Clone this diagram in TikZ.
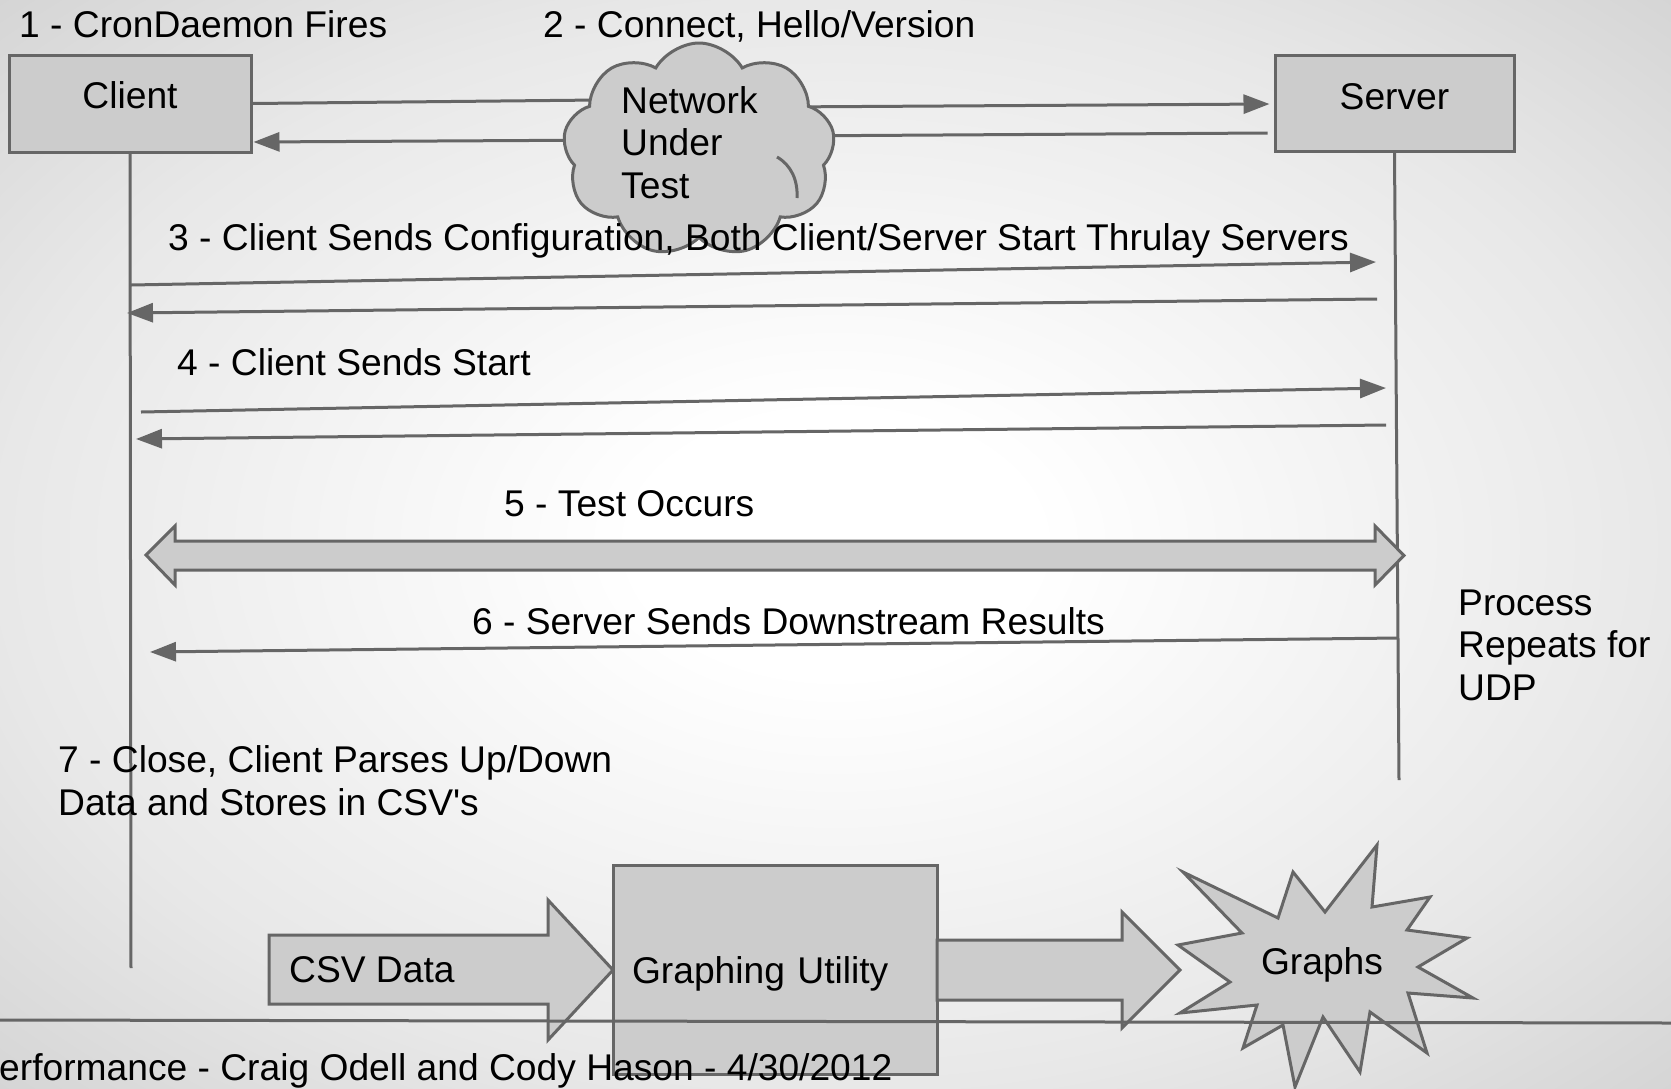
\documentclass[tikz,border=0pt]{standalone}
\usepackage{fontspec}
\setmainfont{Liberation Sans}
\usetikzlibrary{arrows.meta,shapes.symbols,calc}
\definecolor{lc}{HTML}{666666}
\definecolor{fc}{HTML}{CCCCCC}
\definecolor{bgA}{HTML}{E8E8E8}
\definecolor{bgB}{HTML}{D4D4D4}
\pgfdeclareradialshading{bgshade}{\pgfpoint{0bp}{0bp}}{color(0bp)=(white); color(6bp)=(white); color(25bp)=(bgA); color(36bp)=(bgB); color(50bp)=(bgB)}
\pgfdeclarelayer{back}
\pgfdeclarelayer{lines}
\pgfsetlayers{back,lines,main}
\begin{document}
\begin{tikzpicture}[x=1pt,y=-1pt,
  txt/.style={inner sep=0pt, font=\fontsize{37.2}{42.5}\selectfont, text=black},
  box/.style={draw=lc, fill=fc, line width=3pt, inner sep=0pt, font=\fontsize{37.2}{42.5}\selectfont},
  conn/.style={draw=lc, line width=3pt},
  arr/.style={conn, -{Triangle[length=26pt,width=19pt]}},
  blk/.style={draw=lc, fill=fc, line width=3pt, line join=miter}]
\useasboundingbox (0,0) rectangle (1671,1088);
\begin{pgfonlayer}{back}
\shade[shading=bgshade] (0,0) rectangle (1671,1088);
\end{pgfonlayer}

% participants
\node[box, minimum width=242pt, minimum height=97pt] (client) at (130,103.5) {\raisebox{16pt}{Client}};
\node[box, minimum width=239pt, minimum height=96pt] (server) at (1394.5,103) {\raisebox{13pt}{Server}};
\node[box, cloud, cloud puffs=9, cloud puff arc=120, cloud ignores aspect, minimum width=272pt, minimum height=214pt] (net) at (699,150) {};
\draw[conn] ($(net.center)+(78,7)$) .. controls ($(net.center)+(92,15)$) and ($(net.center)+(99,30)$) .. ($(net.center)+(98,48)$);
\node[txt, anchor=base west, align=left] (nettxt) at (621,198) {Network\\Under\\Test};

% lifelines
\coordinate (cend) at (131,968);
\coordinate (send) at (1399,780);
\draw[conn] (client.south) -- (cend);
\draw[conn] (server.south) -- (send);

% connect through the cloud
\begin{pgfonlayer}{lines}
\draw[conn] (client.east) -- ($(net.center)+(-100,-50)$);
\draw[arr] ($(net.center)+(-80,-10)$) -- ($(client.east)+(1,38.5)$);
\draw[arr] ($(net.center)+(80,-43)$) -- ($(server.west)+(-4,1)$);
\draw[conn] ($(server.west)+(-6,30)$) -- ($(net.center)+(80,-14)$);
\end{pgfonlayer}

% messages
\coordinate (a3s) at (131,285);  \coordinate (a3e) at (1376,262);
\coordinate (b3s) at (1377,299); \coordinate (b3e) at (127,313);
\coordinate (a4s) at (141,412);  \coordinate (a4e) at (1386,388);
\coordinate (b4s) at (1386,425); \coordinate (b4e) at (136,439);
\coordinate (a6s) at (1398,638); \coordinate (a6e) at (150,652);
\draw[arr] (a3s) -- (a3e);
\draw[arr] (b3s) -- (b3e);
\draw[arr] (a4s) -- (a4e);
\draw[arr] (b4s) -- (b4e);
\draw[arr] (a6s) -- (a6e);

% test occurs double arrow
\draw[blk] (146,555) -- (175,526) -- (175,541) -- (1375,541) -- (1375,526) -- (1404,555.5)
  -- (1375,585) -- (1375,570) -- (175,570) -- (175,585) -- cycle;

% labels
\node[txt, anchor=base west] (l1) at (19,37) {1 - CronDaemon Fires};
\node[txt, anchor=base west] (l2) at (543,37) {2 - Connect, Hello/Version};
\node[txt, anchor=base west] (l3) at (168,250) {3 - Client Sends Configuration, Both Client/Server Start Thrulay Servers};
\node[txt, anchor=base west] (l4) at (177,375) {4 - Client Sends Start};
\node[txt, anchor=base west] (l5) at (504,516) {5 - Test Occurs};
\node[txt, anchor=base west] (l6) at (472,634) {6 - Server Sends Downstream Results};
\node[txt, anchor=base west, align=left] (lproc) at (1458,700) {Process\\Repeats for\\UDP};
\node[txt, anchor=base west, align=left] (l7) at (58,815) {7 - Close, Client Parses Up/Down\\Data and Stores in CSV\textquotesingle s};

% bottom pipeline
\draw[blk] (269,935) -- (548,935) -- (548,900) -- (613,970) -- (548,1040) -- (548,1004) -- (269,1004) -- cycle;
\node[txt, anchor=base west] (csv) at (289,982) {CSV Data};
\node[box, minimum width=324pt, minimum height=209pt, text width=286pt, text height=27pt, text depth=0pt, align=left] (gu) at (775,969.5) {Graphing Utility};
\draw[blk] (937,940) -- (1122,940) -- (1122,912) -- (1180,970) -- (1122,1028) -- (1122,1000) -- (937,1000) -- cycle;
\draw[blk] (1183,872) -- (1278,918) -- (1293,872) -- (1325,912) -- (1377,845) -- (1372,907)
  -- (1430,897) -- (1407,930) -- (1467,938) -- (1418,967) -- (1473,998) -- (1408,993)
  -- (1427,1053) -- (1370,1012) -- (1360,1072) -- (1323,1017) -- (1295,1087) -- (1283,1025)
  -- (1243,1048) -- (1257,1005) -- (1180,1013) -- (1230,982) -- (1178,945) -- (1242,933) -- cycle;
\node[txt, anchor=base] (graphs) at (1322,974) {Graphs};

% footer
\coordinate (hl) at (0,1020);
\coordinate (hr) at (1671,1023);
\draw[conn] (hl) -- (hr);
\node[txt, anchor=base west] (foot) at (-1,1080) {erformance - Craig Odell and Cody Hason - 4/30/2012};
\end{tikzpicture}
\end{document}
